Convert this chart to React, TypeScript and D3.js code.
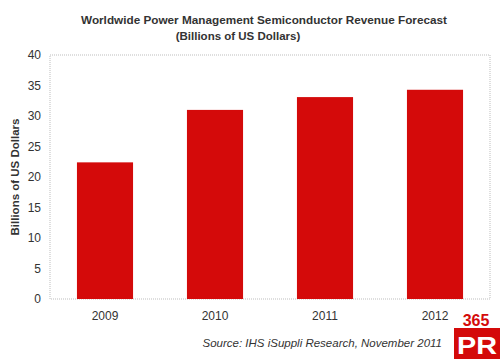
import React from "react";
import * as d3 from "d3";

const categories = ["2009", "2010", "2011", "2012"];
const values = [22.4, 31.0, 33.1, 34.3];
const yTicks = [0, 5, 10, 15, 20, 25, 30, 35, 40];
const titleLines = ["Worldwide Power Management Semiconductor Revenue Forecast", "(Billions of US Dollars)"];
const yTitle = "Billions of US Dollars";
const source = "Source: IHS iSuppli Research, November 2011";

export default function App() {
  const W = 500, H = 359;
  const left = 50, right = 490, top = 55, bottom = 299;
  const x = d3.scaleBand<string>().domain(categories).range([left, right]).paddingInner(0.49).paddingOuter(0.245);
  const y = d3.scaleLinear().domain([0, 40]).range([bottom, top]);
  const font = "Arial, 'Liberation Sans', sans-serif";
  return (
    <svg width={W} height={H} style={{ position: "absolute", left: 0, top: 0, background: "#fff" }} fontFamily={font}>
      <rect x={0} y={0} width={W} height={H} fill="#fff" />
      <text x={264} y={24} textAnchor="middle" fontSize={11.5} fontWeight="bold" fill="#333" textLength={366} lengthAdjust="spacingAndGlyphs">{titleLines[0]}</text>
      <text x={238} y={40} textAnchor="middle" fontSize={11.5} fontWeight="bold" fill="#333">{titleLines[1]}</text>
      <rect x={left} y={top} width={right - left} height={bottom - top} fill="none" stroke="#bdbdbd" strokeWidth={1} strokeDasharray="1,1" />
      {categories.map((c, i) => (
        <rect key={c} x={x(c)} y={y(values[i])} width={x.bandwidth()} height={bottom - y(values[i])} fill="#d40a0a" />
      ))}
      {yTicks.map(t => (
        <text key={t} x={41} y={y(t)} dy="0.35em" textAnchor="end" fontSize={12} fill="#333">{t}</text>
      ))}
      {categories.map(c => (
        <text key={c} x={(x(c) as number) + x.bandwidth() / 2} y={320} textAnchor="middle" fontSize={12} fill="#333">{c}</text>
      ))}
      <text transform={`translate(19,${(top + bottom) / 2}) rotate(-90)`} textAnchor="middle" fontSize={11.5} fontWeight="bold" fill="#333">{yTitle}</text>
      <text x={442} y={347} textAnchor="end" fontSize={11.5} fontStyle="italic" fill="#333">{source}</text>
      <text x={476} y={326} textAnchor="middle" fontSize={16} fontWeight="bold" fill="#d40a0a">365</text>
      <rect x={454} y={328} width={46} height={31} fill="#d40a0a" />
      <text x={457} y={354} fontSize={23} fontWeight="bold" fill="#fff" textLength={40} lengthAdjust="spacingAndGlyphs">PR</text>
    </svg>
  );
}
